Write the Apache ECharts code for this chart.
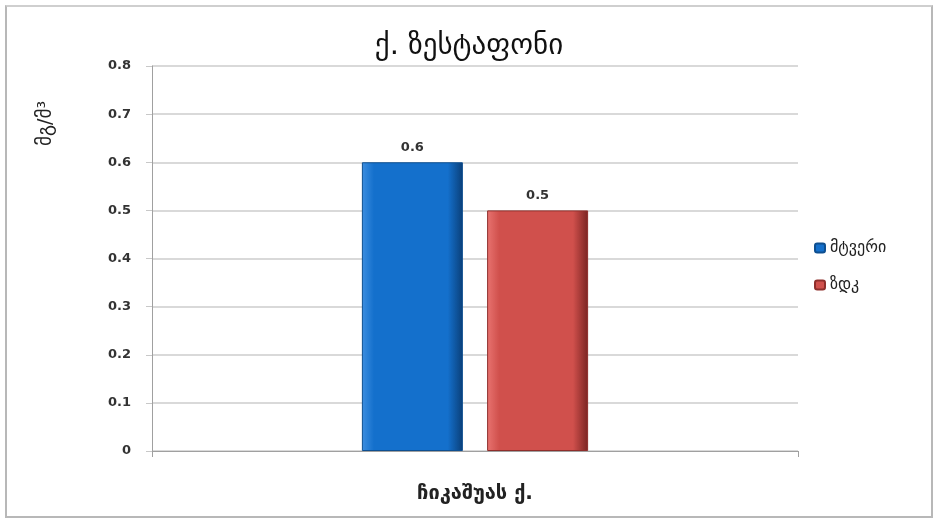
<!DOCTYPE html>
<html><head><meta charset="utf-8">
<script src="https://cdn.jsdelivr.net/npm/echarts@6/dist/echarts.min.js"></script>
<style>
html,body{margin:0;padding:0;background:#fff;}
#c{position:absolute;left:5px;top:5px;width:928px;height:513px;border:2px solid #b8b8b8;border-top-color:#cfcfcf;box-sizing:border-box;}
</style></head>
<body><div id="c"></div>
<script>
const title = 'ქ. ზესტაფონი';
const yName = 'მგ/მ³';
const categories = ['ჩიკაშუას ქ.'];
const seriesNames = ['მტვერი', 'ზდკ'];
const dustValues = [0.6];
const limitValues = [0.5];
const yTicks = [0, 0.1, 0.2, 0.3, 0.4, 0.5, 0.6, 0.7, 0.8];

const chart = echarts.init(document.getElementById('c'), null, {renderer:'canvas'});
function grad(c1, c2, c3) {
  return new echarts.graphic.LinearGradient(0,0,1,0,[
    {offset:0,color:c1},{offset:0.12,color:c2},{offset:0.85,color:c2},{offset:1,color:c3}]);
}
const off = -7;
chart.setOption({
  backgroundColor:'#fff',
  animation:false,
  title:{text:title,left:'center',top:27+off,textStyle:{fontFamily:'DejaVu Sans',fontSize:29,fontWeight:'normal',color:'#111'}},
  legend:{orient:'vertical',left:809+off,top:235+off,itemWidth:10,itemHeight:9,itemGap:21,
    textStyle:{fontFamily:'DejaVu Sans',fontSize:16,color:'#222'},data:seriesNames},
  grid:{left:145,right:133,top:59,bottom:65,containLabel:false},
  graphic:[{type:'text',left:37+off,top:101+off,rotation:Math.PI/2,
    style:{text:yName,font:'19px "DejaVu Sans"',fill:'#222'}}],
  xAxis:{type:'category',data:categories,
    axisLine:{lineStyle:{color:'#a0a0a0',width:1}},
    axisTick:{show:true,alignWithLabel:false,length:6,lineStyle:{color:'#a0a0a0'}},
    axisLabel:{margin:33,fontFamily:'DejaVu Sans',fontWeight:'bold',fontSize:20,color:'#222'}},
  yAxis:{type:'value',min:yTicks[0],max:yTicks[yTicks.length-1],interval:0.1,
    axisLine:{show:true,lineStyle:{color:'#a0a0a0'}},
    axisTick:{show:true,length:6,lineStyle:{color:'#c8c8c8'}},
    splitLine:{lineStyle:{color:'#d9d9d9',width:2}},
    axisLabel:{margin:21,fontFamily:'DejaVu Sans',fontWeight:'bold',fontSize:13,color:'#333',
      formatter:v=>String(Math.round(v*10)/10)}},
  series:[
    {name:seriesNames[0],type:'bar',data:dustValues,barWidth:101,barGap:'24%',
     itemStyle:{color:grad('#3d8ee0','#1470cc','#0a3f78'),borderColor:'#0e4f90',borderWidth:1},
     label:{show:true,position:'top',distance:8,fontFamily:'DejaVu Sans',fontWeight:'bold',fontSize:13,color:'#333',formatter:p=>p.value.toFixed(1)}},
    {name:seriesNames[1],type:'bar',data:limitValues,barWidth:101,
     itemStyle:{color:grad('#e87370','#d0504c','#7a2422'),borderColor:'#8e2e2b',borderWidth:1},
     label:{show:true,position:'top',distance:8,fontFamily:'DejaVu Sans',fontWeight:'bold',fontSize:13,color:'#333',formatter:p=>p.value.toFixed(1)}}
  ]
});
</script></body></html>
